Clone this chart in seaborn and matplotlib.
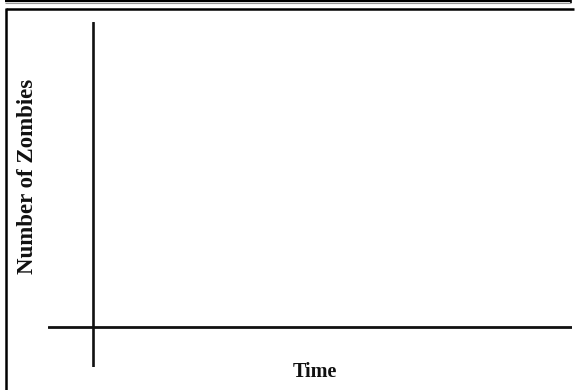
import matplotlib
matplotlib.use("Agg")
import matplotlib.pyplot as plt
from matplotlib.lines import Line2D
import seaborn as sns

# blank worksheet axes: no data plotted yet
time = []
zombies = []
x_label = "Time"
y_label = "Number of Zombies"

sns.set_style("white")
plt.rcParams["font.family"] = ["Liberation Serif", "DejaVu Serif"]

W, H = 575, 390
fig = plt.figure(figsize=(W / 100, H / 100), dpi=100)

# axes area in pixels: lines run x 48..572, y 22..367
ax = fig.add_axes([48 / W, 1 - 367 / H, (572 - 48) / W, (367 - 22) / H])
sns.lineplot(x=time, y=zombies, ax=ax)
ax.set_xlim(-0.94, 10)
ax.set_ylim(-1.32, 10)
ax.axhline(0, color="#111111", lw=2.0)
ax.axvline(0, color="#111111", lw=1.9)
for s in ax.spines.values():
    s.set_visible(False)
ax.set_xticks([])
ax.set_yticks([])
ax.patch.set_alpha(0)

fig.text(315 / W, 1 - 372 / H, x_label, ha="center", va="center",
         fontsize=14.5, fontweight="bold", color="#111111")
fig.text(28 / W, 1 - 176 / H, y_label, ha="center", va="center",
         rotation=90, fontsize=16.5, fontweight="bold", color="#111111")

# page frame lines
def px_line(xs, ys, lw, color="black"):
    fig.add_artist(Line2D([x / W for x in xs], [1 - y / H for y in ys],
                          transform=fig.transFigure, lw=lw, color=color,
                          solid_capstyle="butt"))

px_line([5, 571], [1, 1], 1.6)
px_line([571, 571], [0, 3], 1.2)
px_line([5, 571], [3, 3], 0.8, "#999999")
px_line([6, 574], [9, 9], 1.8)
px_line([6, 6], [8, 390], 1.8)

fig.savefig("out.png", dpi=100)
